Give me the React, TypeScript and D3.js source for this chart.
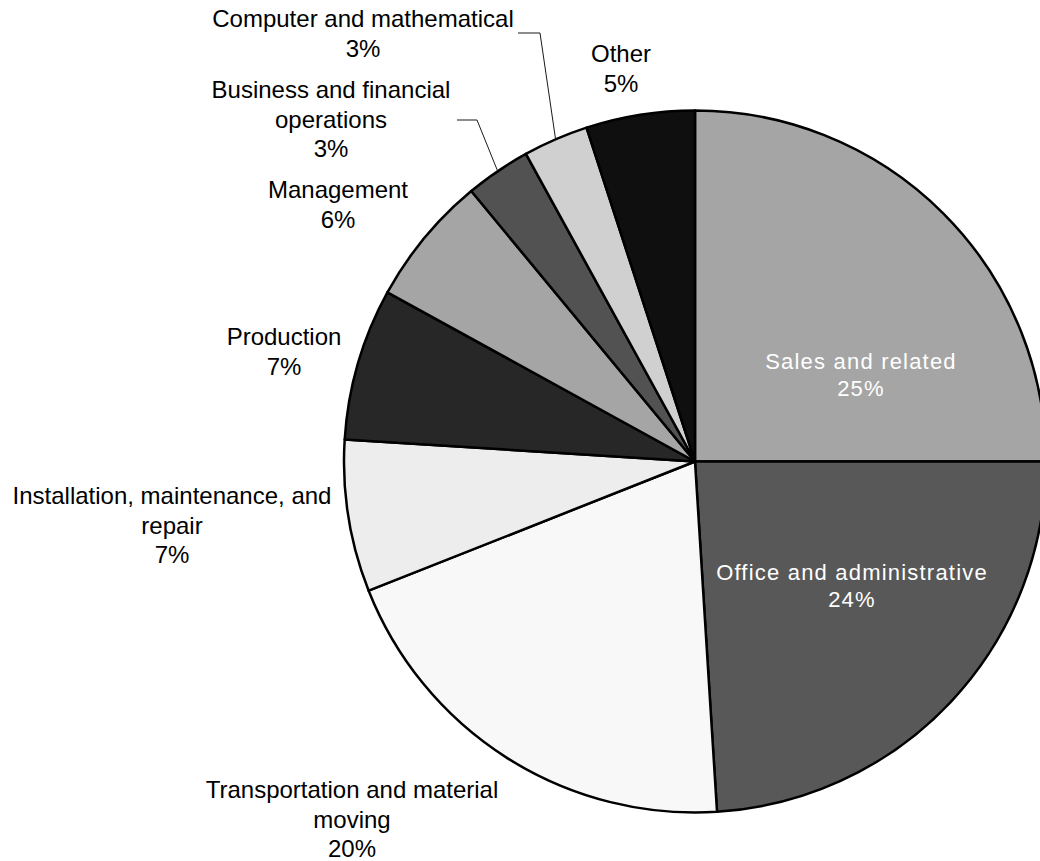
import React, { useEffect, useRef } from 'react';
import * as d3 from 'd3';

// occupation shares, clockwise from 12 o'clock
const categories = [
  'Sales and related',
  'Office and administrative',
  'Transportation and material moving',
  'Installation, maintenance, and repair',
  'Production',
  'Management',
  'Business and financial operations',
  'Computer and mathematical',
  'Other',
];
const shares = [25, 24, 20, 7, 7, 6, 3, 3, 5];
const labelLines = [
  ['Sales and related'],
  ['Office and administrative'],
  ['Transportation and material', 'moving'],
  ['Installation, maintenance, and', 'repair'],
  ['Production'],
  ['Management'],
  ['Business and financial', 'operations'],
  ['Computer and mathematical'],
  ['Other'],
];
const fills = ['#a5a5a5', '#585858', '#f8f8f8', '#ededed', '#272727', '#a5a5a5', '#525252', '#d0d0d0', '#0f0f0f'];

// label layout: centre x, first baseline y, inside slice or not, leader elbow
const labelLayout = [
  { x: 861, y: 369, inside: true },
  { x: 852, y: 580, inside: true },
  { x: 352, y: 798, inside: false },
  { x: 172, y: 504, inside: false },
  { x: 284, y: 345, inside: false },
  { x: 338, y: 198, inside: false },
  { x: 331, y: 98, inside: false, leader: [[457, 120], [477, 120]] },
  { x: 363, y: 27, inside: false, leader: [[518, 33], [540, 33]] },
  { x: 621, y: 62, inside: false },
];

export default function App() {
  const svgRef = useRef<SVGSVGElement>(null);

  useEffect(() => {
    if (!svgRef.current) return;
    const width = 1040;
    const height = 861;
    const cx = 695;
    const cy = 461.5;
    const radius = 351;

    const svg = d3.select(svgRef.current);
    svg.selectAll('*').remove();
    svg.attr('width', width).attr('height', height);

    const data = categories.map((c, i) => ({ name: c, value: shares[i], idx: i }));
    const pie = d3.pie<any>().sort(null).value(d => d.value);
    const arcs = pie(data);
    const arc = d3.arc<any>().innerRadius(0).outerRadius(radius);

    const g = svg.append('g').attr('transform', `translate(${cx},${cy})`);
    g.selectAll('path')
      .data(arcs)
      .enter()
      .append('path')
      .attr('d', arc)
      .attr('fill', d => fills[d.data.idx])
      .attr('stroke', '#000')
      .attr('stroke-width', 2.5)
      .attr('stroke-linejoin', 'round');

    // leader lines
    arcs.forEach(a => {
      const lay = labelLayout[a.data.idx];
      if (!lay.leader) return;
      const mid = (a.startAngle + a.endAngle) / 2;
      const end: [number, number] = [cx + radius * Math.sin(mid), cy - radius * Math.cos(mid)];
      const pts = [...lay.leader, end] as [number, number][];
      svg.append('path')
        .attr('d', d3.line()(pts))
        .attr('fill', 'none')
        .attr('stroke', '#1a1a1a')
        .attr('stroke-width', 1);
    });

    // labels
    arcs.forEach(a => {
      const i = a.data.idx;
      const lay = labelLayout[i];
      const lines = [...labelLines[i], `${shares[i]}%`];
      const lh = lay.inside ? 27 : 29.5;
      const t = svg.append('text')
        .attr('text-anchor', 'middle')
        .attr('font-family', '"Liberation Sans", Arial, sans-serif')
        .attr('font-size', lay.inside ? 22 : 24)
        .attr('letter-spacing', lay.inside ? 1.2 : 0)
        .attr('fill', lay.inside ? '#ffffff' : '#000000');
      lines.forEach((ln, k) => {
        t.append('tspan').attr('x', lay.x).attr('y', lay.y + k * lh).text(ln);
      });
    });
  }, []);

  return (
    <svg
      ref={svgRef}
      style={{ position: 'absolute', left: 0, top: 0, display: 'block', background: '#fff' }}
    />
  );
}
